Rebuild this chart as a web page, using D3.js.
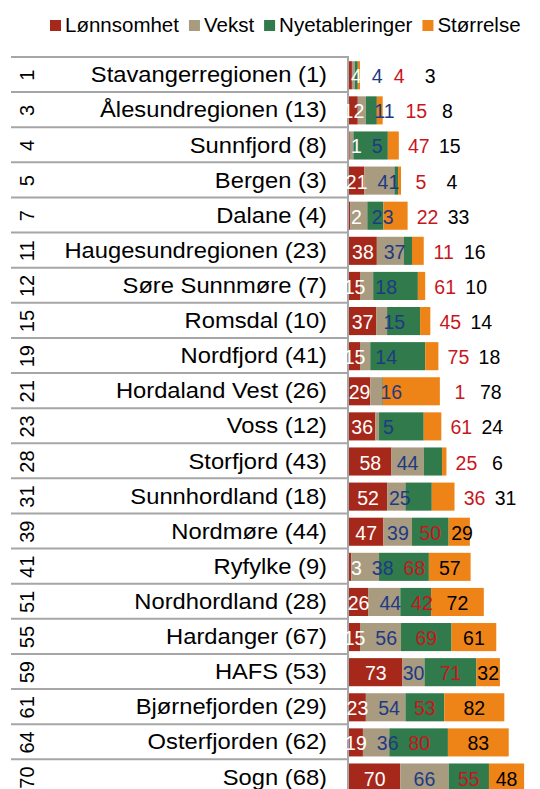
<!DOCTYPE html>
<html>
<head>
<meta charset="utf-8">
<script src="https://cdn.jsdelivr.net/npm/d3@7"></script>
<style>
  html, body { margin: 0; padding: 0; background: #fff; }
  svg { display: block; font-family: "Liberation Sans", Arial, sans-serif; }
</style>
</head>
<body>
<svg id="chart" width="540" height="789"></svg>
<script>
// Regional ranking: position, region name (overall rank) and the rank in each sub-index
const positions = ["1","3","4","5","7","11","12","15","19","21","23","28","31","39","41","51","55","59","61","64","70"];
const regions = [
  "Stavangerregionen (1)", "Ålesundregionen (13)", "Sunnfjord (8)", "Bergen (3)", "Dalane (4)",
  "Haugesundregionen (23)", "Søre Sunnmøre (7)", "Romsdal (10)", "Nordfjord (41)", "Hordaland Vest (26)",
  "Voss (12)", "Storfjord (43)", "Sunnhordland (18)", "Nordmøre (44)", "Ryfylke (9)",
  "Nordhordland (28)", "Hardanger (67)", "HAFS (53)", "Bjørnefjorden (29)", "Osterfjorden (62)", "Sogn (68)"
];
const lonnsomhet     = [4, 12, 1, 21, 2, 38, 15, 37, 15, 29, 36, 58, 52, 47, 3, 26, 15, 73, 23, 19, 70];
const vekst          = [4, 11, 5, 41, 23, 37, 18, 15, 14, 16, 5, 44, 25, 39, 38, 44, 56, 30, 54, 36, 66];
const nyetableringer = [4, 15, 47, 5, 22, 11, 61, 45, 75, 1, 61, 25, 36, 50, 68, 42, 69, 71, 53, 80, 55];
const storrelse      = [3, 8, 15, 4, 33, 16, 10, 14, 18, 78, 24, 6, 31, 29, 57, 72, 61, 32, 82, 83, 48];

const seriesNames  = ["Lønnsomhet", "Vekst", "Nyetableringer", "Størrelse"];
const seriesColors = ["#a5281b", "#a89b80", "#307a4b", "#ee8417"];
const labelColors  = ["#ffffff", "#1d3a84", "#c8161d", "#000000"];

const keys = ["s0", "s1", "s2", "s3"];
const rows = regions.map((r, i) => ({
  region: r, pos: positions[i],
  s0: lonnsomhet[i], s1: vekst[i], s2: nyetableringer[i], s3: storrelse[i]
}));

const svg = d3.select("#chart");

const axisX = 348;
const gridTop = 57, rowStep = 35.18;
const x = d3.scaleLinear().domain([0, 260]).range([axisX + 1, 539.5]);
const y = d3.scaleBand()
  .domain(regions)
  .range([gridTop, gridTop + regions.length * rowStep])
  .paddingInner(0.2)
  .paddingOuter(0.12);

const stacked = d3.stack().keys(keys)(rows);

// Category grid: separators between rows spanning both label columns
const gridColor = "#a6a6a6";
const bounds = d3.range(regions.length + 1).map(i => gridTop + i * y.step());
svg.append("g").selectAll("line").data(bounds).join("line")
  .attr("x1", 11).attr("x2", axisX)
  .attr("y1", d => d).attr("y2", d => d)
  .attr("stroke", gridColor).attr("stroke-width", 2);
svg.append("line")
  .attr("x1", axisX).attr("x2", axisX)
  .attr("y1", gridTop - 1).attr("y2", 789)
  .attr("stroke", gridColor).attr("stroke-width", 2);

// Stacked bars
svg.append("g").selectAll("g").data(stacked).join("g")
  .attr("fill", (d, i) => seriesColors[i])
  .selectAll("rect").data(d => d).join("rect")
  .attr("x", d => x(d[0]))
  .attr("width", d => x(d[1]) - x(d[0]))
  .attr("y", d => y(d.data.region))
  .attr("height", y.bandwidth());

// Position column (rotated) and region names
const cy = r => y(r) + y.bandwidth() / 2;
svg.append("g").selectAll("text").data(rows).join("text")
  .attr("transform", d => `translate(27,${cy(d.region)}) rotate(-90)`)
  .attr("text-anchor", "middle")
  .attr("dominant-baseline", "central")
  .attr("font-size", 20)
  .attr("fill", "#000")
  .text(d => d.pos);

// Region names use a slightly widened face
svg.append("g").selectAll("text").data(rows).join("text")
  .attr("transform", d => `translate(327,${cy(d.region)}) scale(1.12,1)`)
  .attr("text-anchor", "end")
  .attr("dominant-baseline", "central")
  .attr("font-size", 21.2)
  .attr("fill", "#000")
  .text(d => d.region);

// Rank labels: centred on segments, pushed right when they would collide;
// on short bars the last two labels sit after the bar end
const labelSize = 19.5;
const labelLayer = svg.append("g").attr("font-size", labelSize);
rows.forEach((row, i) => {
  const segs = stacked.map(s => [x(s[i][0]), x(s[i][1])]);
  const texts = keys.map((k, j) => labelLayer.append("text")
    .attr("text-anchor", "middle")
    .attr("dominant-baseline", "central")
    .attr("y", cy(row.region) + 1)
    .attr("fill", labelColors[j])
    .text(row[k]));
  const w = texts.map(t => t.node().getComputedTextLength());
  const c = segs.map(s => (s[0] + s[1]) / 2);
  const total = keys.reduce((a, k) => a + row[k], 0);
  const barStart = segs[0][0], barEnd = segs[3][1];
  const px = [];
  px[0] = w[0] < 14 ? Math.max(c[0], barStart + w[0] / 2 + 2) : c[0];
  px[1] = Math.max(c[1], px[0] + (w[0] + w[1]) / 2 + 10);
  if (total < 150) {
    px[2] = Math.max(barEnd + 20, px[1] + (w[1] + w[2]) / 2 + 11);
    px[3] = px[2] + 31;
  } else {
    px[2] = Math.max(c[2], px[1] + (w[1] + w[2]) / 2 + 10);
    px[3] = Math.max(c[3], px[2] + (w[2] + w[3]) / 2 + 10);
  }
  texts.forEach((t, j) => t.attr("x", px[j]));
});

// Legend
const legend = svg.append("g").attr("font-size", 20.5);
let lx = 50;
seriesNames.forEach((name, i) => {
  legend.append("rect").attr("x", lx).attr("y", 20).attr("width", 11).attr("height", 11)
    .attr("fill", seriesColors[i]);
  const t = legend.append("text").attr("x", lx + 15).attr("y", 32).attr("fill", "#000").text(name);
  lx += 15 + t.node().getComputedTextLength() + 10;
});
</script>
</body>
</html>
